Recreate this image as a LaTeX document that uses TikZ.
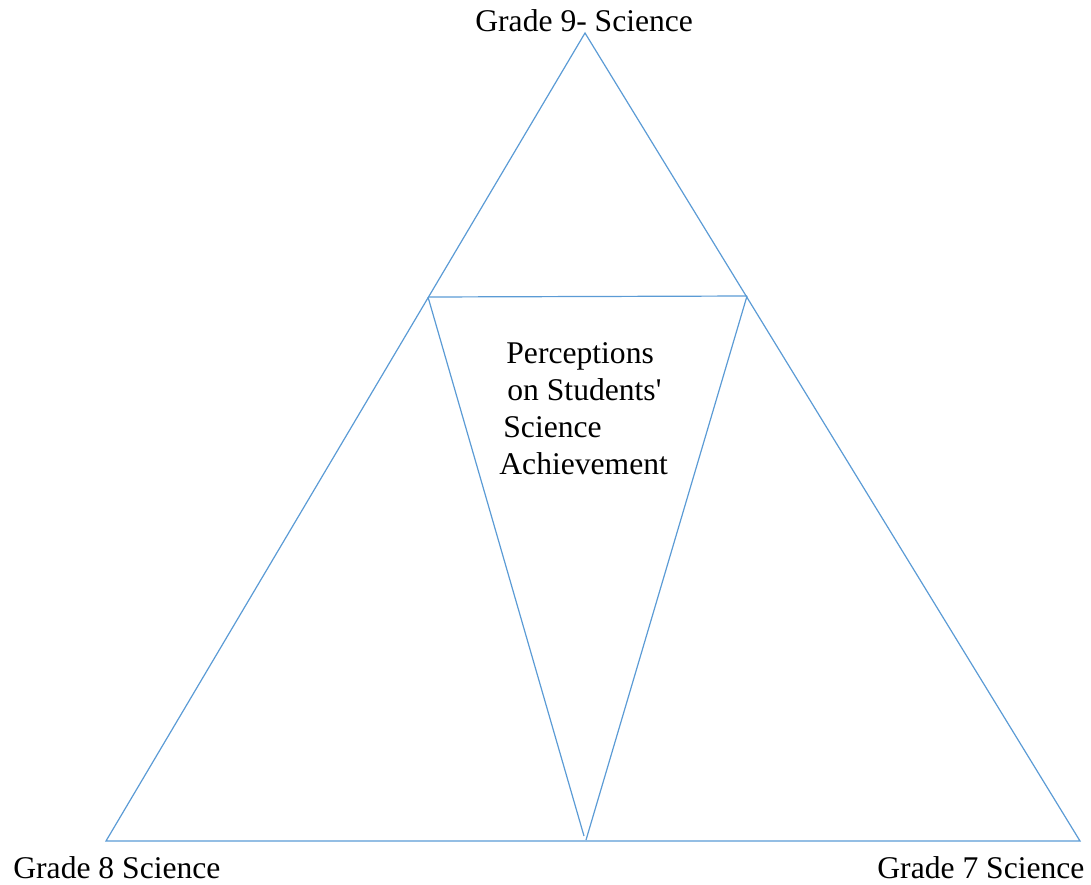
\documentclass[tikz,border=0pt]{standalone}
\usepackage{fontspec}
\setmainfont{Liberation Serif}
\usetikzlibrary{positioning}
\definecolor{lineblue}{RGB}{91,155,213}

\begin{document}
\begin{tikzpicture}[x=0.5pt,y=-0.5pt,edge/.style={draw=lineblue,line width=0.6pt},
		label/.style={anchor=base west,inner sep=0pt,font=\fontsize{15.8}{19}\selectfont}]
		        \useasboundingbox (0,0) rectangle (1091,884);
		        
		        \coordinate (top) at (585,33);
		        \coordinate (left) at (106,841);
		        \coordinate (right) at (1080,841);
		        \coordinate (midl) at (428,297);
		        \coordinate (midr) at (747,296);
		        \coordinate (botl) at (584,836);
		        \coordinate (botr) at (586,840);
		        
		        \draw[edge] (top) -- (left) -- (right) -- cycle;
		        \draw[edge] (midl) -- (midr);
		        \draw[edge] (midl) -- (botl);
		        \draw[edge] (midr) -- (botr);
		        
		        \node[label] (g9) at (475,31) {Grade 9- Science};
		        \node[label] (g8) at (13,878) {Grade 8 Science};
		        \node[label] (g7) at (877,878) {Grade 7 Science};
		        
		        \node[label] (p1) at (506,363) {Perceptions};
		        \node[label] (p2) at (507,400) {on Students\textquotesingle};
		        \node[label] (p3) at (503,437) {Science};
		        \node[label] (p4) at (499,474) {Achievement};
		    \end{tikzpicture}
\end{document}
